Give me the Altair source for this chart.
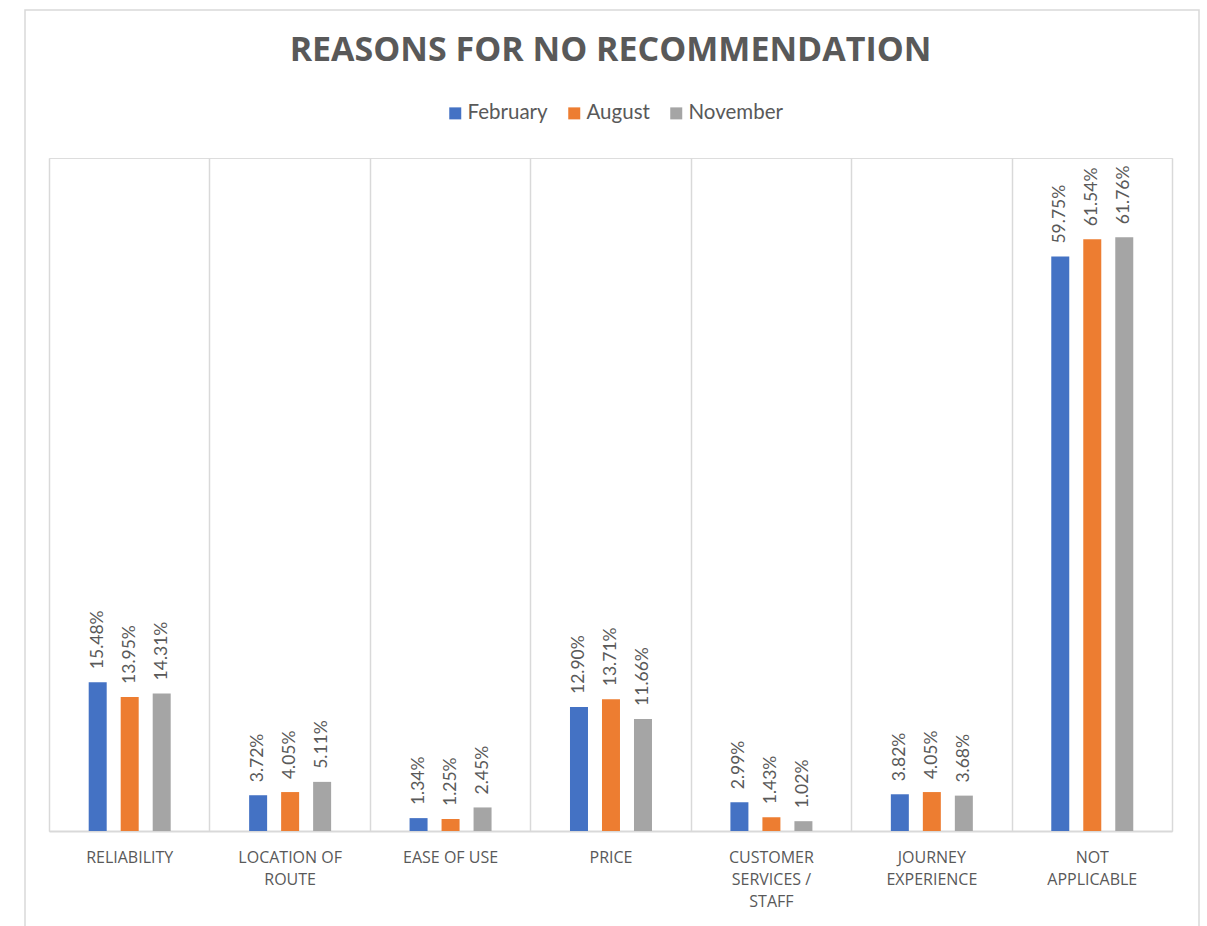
import altair as alt
import pandas as pd

categories = ["RELIABILITY", "LOCATION OF\nROUTE", "EASE OF USE", "PRICE",
              "CUSTOMER\nSERVICES /\nSTAFF", "JOURNEY\nEXPERIENCE", "NOT\nAPPLICABLE"]
series = ["February", "August", "November"]
february = [15.48, 3.72, 1.34, 12.90, 2.99, 3.82, 59.75]
august = [13.95, 4.05, 1.25, 13.71, 1.43, 4.05, 61.54]
november = [14.31, 5.11, 2.45, 11.66, 1.02, 3.68, 61.76]
colors = ["#4472C4", "#ED7D31", "#A5A5A5"]

rows = []
for s, vals in zip(series, [february, august, november]):
    for c, v in zip(categories, vals):
        rows.append({"category": c, "series": s, "value": v, "label": f"{v:.2f}%"})
df = pd.DataFrame(rows)

W, H = 1123, 673
PAD = {"left": 49, "top": 158, "right": 35, "bottom": 95}
GRAY = "#595959"
LINE = "#d9d9d9"

x = alt.X("category:N", sort=categories,
          scale=alt.Scale(paddingInner=0, paddingOuter=0),
          axis=alt.Axis(title=None, labelAngle=0, ticks=False, grid=True,
                        tickBand="extent", gridColor=LINE, gridWidth=1.5,
                        domainColor=LINE, domainWidth=2,
                        labelFont="Open Sans", labelFontSize=16, labelColor=GRAY,
                        labelLineHeight=22, labelPadding=18, labelBaseline="top",
                        labelExpr="split(datum.label, '\\n')"))
xo = alt.XOffset("series:N", sort=series,
                 scale=alt.Scale(range=[39.7, 121.7], paddingInner=0.4375, paddingOuter=0))
y = alt.Y("value:Q", scale=alt.Scale(domain=[0, 70], nice=False), axis=None)

base = alt.Chart(df)

bars = base.mark_bar().encode(
    x=x, xOffset=xo, y=y,
    color=alt.Color("series:N", sort=series,
                    scale=alt.Scale(domain=series, range=colors),
                    legend=alt.Legend(title=None, orient="none", direction="horizontal",
                                      legendX=396, legendY=-55, symbolType="square",
                                      symbolSize=144, symbolStrokeWidth=0,
                                      labelFont="Lato", labelFontSize=20.5, labelColor=GRAY,
                                      labelOffset=2, columnPadding=16, padding=0)),
)

labels = base.mark_text(angle=270, align="left", baseline="middle", dx=13,
                        font="Lato", fontSize=17.5, color=GRAY).encode(
    x=x, xOffset=xo, y=y, text="label:N")

border = alt.Chart(pd.DataFrame({"a": [0]})).mark_rect(
    fill=None, stroke=LINE, strokeWidth=1.5).encode(
    x=alt.value(-24), x2=alt.value(1150), y=alt.value(-148), y2=alt.value(800))

chart = alt.layer(border, bars, labels).properties(
    width=W, height=H, padding=PAD, autosize=alt.AutoSizeParams(type="none"),
    title=alt.Title("REASONS FOR NO RECOMMENDATION", font="Open Sans", fontSize=34,
                    fontWeight="bold", color=GRAY, anchor="middle", offset=0, dy=86,
                    baseline="alphabetic"),
).configure_view(stroke=None).configure(background="white")

chart.save("out.html", embed_options={"renderer": "svg", "actions": False})
